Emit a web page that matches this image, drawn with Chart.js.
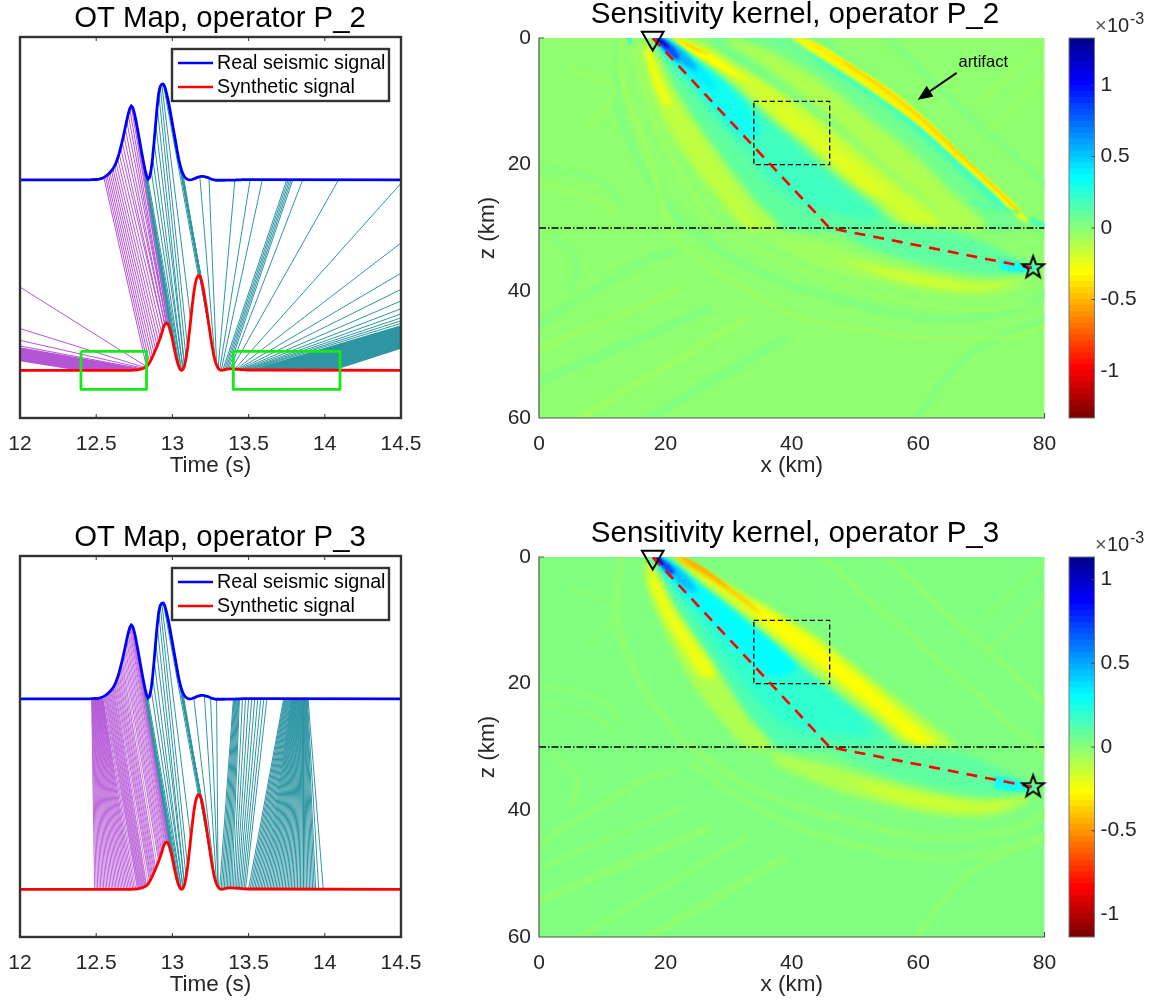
<!DOCTYPE html>
<html>
<head>
<meta charset="utf-8">
<title>OT map and sensitivity kernels</title>
<script src="https://cdn.jsdelivr.net/npm/chart.js@4/dist/chart.umd.min.js"></script>
<style>
  html, body { margin: 0; padding: 0; background: #fff; overflow: hidden; }
  #page { position: relative; width: 1161px; height: 1003px; overflow: hidden; }
  canvas { position: absolute; }
</style>
</head>
<body>
<div id="page"></div>
<script>
// =========================
// SIGNALS (offset from each trace's baseline)
// =========================
const signalTimes = [12,
  12.4, 12.41, 12.42, 12.43, 12.44, 12.45, 12.46, 12.47, 12.48, 12.49,
  12.5, 12.51, 12.52, 12.53, 12.54, 12.55, 12.56, 12.57, 12.58, 12.59,
  12.6, 12.61, 12.62, 12.63, 12.64, 12.65, 12.66, 12.67, 12.68, 12.69,
  12.7, 12.71, 12.72, 12.73, 12.74, 12.75, 12.76, 12.77, 12.78, 12.79,
  12.8, 12.81, 12.82, 12.83, 12.84, 12.85, 12.86, 12.87, 12.88, 12.89,
  12.9, 12.91, 12.92, 12.93, 12.94, 12.95, 12.96, 12.97, 12.98, 12.99,
  13, 13.01, 13.02, 13.03, 13.04, 13.05, 13.06, 13.07, 13.08, 13.09,
  13.1, 13.11, 13.12, 13.13, 13.14, 13.15, 13.16, 13.17, 13.18, 13.19,
  13.2, 13.21, 13.22, 13.23, 13.24, 13.25, 13.26, 13.27, 13.28, 13.29,
  13.3, 13.31, 13.32, 13.33, 13.34, 13.35, 13.36, 13.37, 13.38, 13.39,
  13.4, 13.41, 13.42, 13.43, 13.44, 13.45, 13.46, 13.47, 13.48, 13.49,
  13.5, 14.5];
const realSignal = [0,
  0, 0, 0, 0, 0, 0, 0, .001, .001, .002,
  .002, .003, .004, .006, .009, .013, .018, .024, .031, .039,
  .048, .058, .072, .09, .112, .138, .168, .2, .235, .272,
  .31, .345, .375, .388, .38, .352, .315, .272, .228, .182,
  .137, .095, .056, .022, .004, .012, .05, .115, .2, .295,
  .385, .455, .49, .502, .503, .49, .46, .425, .385, .34,
  .295, .25, .205, .16, .115, .08, .05, .03, .016, .007,
  .002, 0, 0, .002, .005, .008, .012, .015, .017, .018,
  .018, .017, .015, .013, .01, .006, .003, .001, -.001, -.002,
  -.002, -.002, -.002, -.002, -.002, -.001, -.001, -.001, -.001, -.001,
  -.001, -.001, 0, 0, 0, 0, .001, .001, .001, .001,
  .001, 0];
const synthSignal = [0,
  0, 0, 0, 0, 0, 0, 0, 0, 0, 0,
  0, 0, 0, 0, 0, 0, 0, 0, 0, 0,
  0, 0, 0, 0, 0, 0, 0, 0, 0, 0,
  0, 0, 0, 0, .001, .001, .002, .003, .004, .006,
  .008, .011, .015, .02, .028, .04, .055, .072, .09, .108,
  .127, .147, .17, .195, .222, .242, .248, .244, .225, .197,
  .162, .122, .083, .05, .024, .006, 0, .005, .025, .065,
  .12, .19, .265, .34, .405, .455, .485, .497, .495, .475,
  .44, .395, .345, .29, .235, .18, .13, .085, .05, .027,
  .012, .003, 0, .001, .003, .005, .007, .008, .008, .008,
  .007, .007, .006, .006, .005, .004, .004, .003, .003, .002,
  .002, 0];
const realBaseline = 1;
const synthBaseline = 0;
const legendLabels = ['Real seismic signal', 'Synthetic signal'];
const timeTicks = [12, 12.5, 13, 13.5, 14, 14.5];

// =========================
// OT MAP PAIRS (real time -> synthetic time)
// =========================
const tealPeakReal = [12.76, 12.77, 12.78, 12.79, 12.8, 12.81, 12.82, 12.83, 12.84, 12.86, 12.87, 12.88, 12.89,
  12.9, 12.91, 12.92, 12.93, 12.94, 12.95, 12.96, 12.97, 12.98, 12.99, 13, 13.01, 13.02, 13.03, 13.04, 13.05, 13.06, 13.07];
const tealPeakSynth = [12.99, 13, 13.01, 13.01, 13.02, 13.03, 13.04, 13.05, 13.06, 13.06, 13.07, 13.07, 13.08,
  13.08, 13.09, 13.1, 13.12, 13.17, 13.18, 13.19, 13.2, 13.21, 13.21, 13.22, 13.23, 13.24, 13.25, 13.26, 13.26, 13.27, 13.27];

const p2PurpleReal = [10.88, 8.87, 7.35, 6.2,
  12.55, 12.56, 12.57, 12.58, 12.59, 12.6, 12.61, 12.62, 12.63, 12.64, 12.65, 12.66, 12.67, 12.68, 12.69, 12.7, 12.71, 12.72, 12.73, 12.74, 12.75];
const p2PurpleSynth = [12.83, 12.82, 12.81, 12.8,
  12.83, 12.84, 12.85, 12.86, 12.87, 12.88, 12.89, 12.9, 12.91, 12.92, 12.93, 12.94, 12.94, 12.95, 12.95, 12.96, 12.96, 12.96, 12.97, 12.97, 12.98];
const p2PurpleWedgeReal = [5.7, 5.65, 5.6, 5.55, 5.5, 5.45, 5.4, 5.35, 5.3, 5.25, 5.2, 5.15, 5.1, 5.05, 5, 4.95, 4.9, 4.85, 4.8, 4.75, 4.7, 4.65, 4.6];
const p2PurpleWedgeSynth = [12.79, 12.78, 12.76, 12.74, 12.72, 12.7, 12.68, 12.66, 12.64, 12.62, 12.6, 12.58, 12.56, 12.54, 12.52, 12.5, 12.48, 12.46, 12.44, 12.43, 12.42, 12.41, 12.4];
const p2TealReal = [13.18, 13.24, 13.41, 13.51, 13.59, 13.75, 13.76, 13.77, 13.78, 13.79, 13.855, 14.09, 14.52, 15.04, 15.54, 15.95, 16.35, 16.7, 16.97, 17.21, 17.39, 17.58];
const p2TealSynth = [13.28, 13.29, 13.3, 13.31, 13.32, 13.33, 13.34, 13.35, 13.36, 13.37, 13.38, 13.39, 13.41, 13.42, 13.43, 13.44, 13.45, 13.46, 13.47, 13.48, 13.49, 13.5];
const p2TealWedgeReal = [17.73, 17.69, 17.66, 17.64, 17.62, 17.61, 17.6, 17.59, 17.58, 17.58, 17.58, 17.59, 17.6, 17.61, 17.62, 17.64, 17.66, 17.68, 17.7, 17.72, 17.75, 17.78, 17.81, 17.84, 17.87, 17.9, 17.93];
const p2TealWedgeSynth = [13.52, 13.54, 13.56, 13.58, 13.6, 13.62, 13.64, 13.66, 13.68, 13.7, 13.72, 13.74, 13.76, 13.78, 13.8, 13.82, 13.84, 13.86, 13.88, 13.9, 13.92, 13.94, 13.96, 13.98, 14, 14.02, 14.04];

const p3PurpleReal = [12.47, 12.473, 12.476, 12.479, 12.482, 12.485, 12.488, 12.491, 12.494, 12.497, 12.5, 12.503, 12.506, 12.509, 12.512, 12.515, 12.518, 12.521, 12.524, 12.527, 12.53, 12.533, 12.536, 12.539, 12.542, 12.545,
  12.55, 12.56, 12.57, 12.58, 12.59, 12.6, 12.61, 12.62, 12.63, 12.64, 12.65, 12.66, 12.67, 12.68, 12.69, 12.7, 12.71, 12.72, 12.73, 12.74, 12.75];
const p3PurpleSynth = [12.49, 12.5, 12.51, 12.52, 12.53, 12.54, 12.55, 12.56, 12.57, 12.58, 12.59, 12.6, 12.61, 12.62, 12.63, 12.64, 12.65, 12.66, 12.67, 12.68, 12.69, 12.7, 12.71, 12.72, 12.73, 12.74,
  12.75, 12.77, 12.78, 12.79, 12.8, 12.81, 12.82, 12.83, 12.85, 12.86, 12.87, 12.88, 12.89, 12.91, 12.92, 12.93, 12.94, 12.95, 12.96, 12.97, 12.98];
// lines that start between the signal samples
const p3PurpleMidReal = [12.555, 12.565, 12.575, 12.585, 12.595, 12.605, 12.615, 12.625, 12.635, 12.645, 12.655, 12.665, 12.675, 12.685, 12.695, 12.705, 12.715, 12.725, 12.735, 12.745];
const p3PurpleMidRealY = [.0155, .021, .0275, .035, .0435, .053, .065, .081, .101, .125, .153, .184, .2175, .2535, .291, .3275, .36, .382, .384, .366];
const p3PurpleMidSynth = [12.76, 12.775, 12.785, 12.795, 12.805, 12.815, 12.825, 12.84, 12.855, 12.865, 12.875, 12.885, 12.9, 12.915, 12.925, 12.935, 12.945, 12.955, 12.965, 12.975];
const p3PurpleMidSynthY = [.002, .0035, .005, .007, .0095, .013, .0175, .028, .0475, .0635, .081, .099, .127, .158, .1825, .2085, .232, .245, .246, .235];
const p3TealReal = [13.14, 13.21, 13.25, 13.29, 13.4, 13.405, 13.41, 13.415, 13.42, 13.425, 13.43, 13.435,
  13.44, 13.46, 13.48, 13.5, 13.52, 13.54, 13.56, 13.58, 13.6, 13.62,
  13.73, 13.735, 13.74, 13.745, 13.75, 13.755, 13.76, 13.765, 13.77, 13.775, 13.78, 13.783, 13.786, 13.789, 13.792, 13.795, 13.798, 13.801, 13.804, 13.807,
  13.81, 13.813, 13.816, 13.819, 13.822, 13.825, 13.828, 13.831, 13.834, 13.837, 13.84, 13.843, 13.846, 13.849, 13.852, 13.855, 13.858, 13.861, 13.864, 13.867, 13.87, 13.873, 13.876, 13.879, 13.882, 13.885, 13.89];
const p3TealSynth = [13.28, 13.29, 13.3, 13.3, 13.31, 13.32, 13.33, 13.34, 13.35, 13.36, 13.37, 13.38,
  13.39, 13.4, 13.41, 13.42, 13.43, 13.44, 13.45, 13.46, 13.47, 13.48,
  13.5, 13.51, 13.52, 13.53, 13.54, 13.55, 13.56, 13.57, 13.58, 13.59, 13.6, 13.61, 13.62, 13.63, 13.64, 13.65, 13.66, 13.67, 13.68, 13.69,
  13.7, 13.71, 13.72, 13.73, 13.74, 13.75, 13.76, 13.77, 13.78, 13.79, 13.8, 13.81, 13.82, 13.83, 13.84, 13.85, 13.86, 13.87, 13.88, 13.89, 13.9, 13.91, 13.92, 13.93, 13.94, 13.96, 13.99];

// green windows, P_2 only
const windowLeftT = [12.4, 12.83, 12.83, 12.4, 12.4];
const windowRightT = [13.4, 14.1, 14.1, 13.4, 13.4];
const windowY = [0.1, 0.1, -0.1, -0.1, 0.1];

// =========================
// KERNEL SHAPES ([x km, z km]), values in units of 1e-3
// =========================
const kernelXTicks = [0, 20, 40, 60, 80];
const kernelZTicks = [0, 20, 40, 60];
const raypathX = [18, 46, 78];
const raypathZ = [0, 30, 36.3];
const boxX = [34, 46, 46, 34, 34];
const boxZ = [10, 10, 20, 20, 10];
const interfaceX = [0, 80];
const interfaceZ = [30, 30];
const receiverPoint = [18, 0];
const sourcePoint = [78.2, 36.2];
const plotEdge = [[-3, -3], [83, -3], [83, 63], [-3, 63]];

const p2Range = 1.33;
const p3Range = 1.135;
const p2CbarTicks = [-1, -0.5, 0, 0.5, 1];
const p3CbarTicks = [-1, -0.5, 0, 0.5, 1];

const jetColors = ['#000090', '#0000A0', '#0000B0', '#0000C0', '#0000D0', '#0000E0', '#0000F0', '#0000FF',
  '#0010FF', '#0020FF', '#0030FF', '#0040FF', '#0050FF', '#0060FF', '#0070FF', '#0080FF',
  '#0090FF', '#00A0FF', '#00B0FF', '#00C0FF', '#00D0FF', '#00E0FF', '#00F0FF', '#00FFFF',
  '#10FFF0', '#20FFE0', '#30FFD0', '#40FFC0', '#50FFB0', '#60FFA0', '#70FF90', '#80FF80',
  '#90FF70', '#A0FF60', '#B0FF50', '#C0FF40', '#D0FF30', '#E0FF20', '#F0FF10', '#FFFF00',
  '#FFF000', '#FFE000', '#FFD000', '#FFC000', '#FFB000', '#FFA000', '#FF9000', '#FF8000',
  '#FF7000', '#FF6000', '#FF5000', '#FF4000', '#FF3000', '#FF2000', '#FF1000', '#FF0000',
  '#F00000', '#E00000', '#D00000', '#C00000', '#B00000', '#A00000', '#900000', '#800000'];

// faint streaks in the flat part of both kernels
const arcOuter = [[13.1, -1], [12.5, 10], [16.4, 20.5], [24, 30], [35.7, 37.4], [48.7, 41.6], [61.6, 44.2], [74.5, 43.2], [81, 40]];
const arcInner = [[24, 32.5], [35, 40], [50, 45.5], [65, 47.5], [81, 44]];
const streakLeftA = [[-1, 20], [10, 22.6], [13, 25.8]];
const streakLeftB = [[-1, 22.6], [8.6, 25.3], [12.5, 27.9]];
const streakLeftC = [[2, 31], [6, 35], [5, 40]];
const streakLowA = [[-1, 45.8], [16.4, 35.3], [21.5, 33.7]];
const streakLowB = [[-1, 49.5], [22.8, 39.5]];
const streakLowC = [[-1, 54.7], [27.3, 42.6]];
const streakLowD = [[4.7, 61], [33, 44.2]];
const streakLowE = [[15.7, 61], [39, 47.4]];
const streakUpA = [[69.4, 10.5], [81, 0]];
const streakUpB = [[70.7, 15.3], [81, 5]];
const streakUpC = [[53.8, -1], [81, 24]];
const streakUpD = [[43.5, -1], [81, 32]];
const streakLowF = [[59, 61], [68, 50], [81, 44]];
const streakTopLeft = [[5, 5], [12, 8], [8, 14]];

// P_2 kernel
const k2Aqua1 = [[26, -1], [40, -1], [46, 2], [52, 6], [58, 10.5], [64, 16], [70, 22], [75, 27.5], [77, 30], [62, 30], [55, 24.5], [47, 17], [38, 10], [30, 4.5]];
const k2Fan = [[18, -1], [21, 0], [26, 2.5], [31, 5.5], [36, 9.5], [42, 14], [48, 19], [54, 24], [60, 28.5], [62, 30], [36, 30], [32, 26], [27, 20], [23, 14], [20, 8], [18.5, 2]];
const k2Cyan2 = [[18, -1], [21, .8], [26, 3.5], [31, 7.5], [37, 13], [42, 18], [48, 23], [54, 28.5], [48, 28], [41, 26], [36, 22], [32, 17], [27, 11.5], [23, 6], [19.5, 2]];
const k2Cyan3 = [[18, -1], [21, .8], [26, 3.8], [30, 7.5], [34, 12], [35, 15], [32, 15.5], [28, 11.5], [24, 7], [20, 2.5]];
const k2Cyan4 = [[19, 0], [23, 2.5], [27, 6], [28, 8.5], [25, 6.5], [21, 3]];
const k2Blue1 = [[18, -.5], [21, .8], [23.5, 2.8], [25, 5], [22.5, 4], [20, 2]];
const k2Blue2 = [[18, -.5], [20.3, .5], [22, 2.5], [22, 3.5], [20.2, 2.2], [19, 1]];
const k2Blue3 = [[18.2, 0], [19.6, .4], [20.6, 1.6], [19.6, 1.2]];
const k2Second = [[31, 0], [36, 1.8], [44, 6.3], [52, 12.5], [59, 18], [65, 24], [71, 30], [66, 30], [60, 25], [54, 20], [47, 13.5], [40, 8], [34, 3.5], [29, .5]];
const k2ArtAqua = [[43, 1], [50, 5.5], [57, 10], [63, 15.5], [69, 21.5], [74, 26.5], [73, 27], [67, 21.5], [61, 16], [55, 11], [49, 7], [43, 3]];
const k2ArtYellow = [[39, -1], [44, 1], [50, 4.5], [56, 8.5], [62, 13.5], [68, 19.5], [74, 25], [77.5, 29], [76, 28.5], [71.5, 24], [66, 19], [60.5, 14], [54.5, 9.7], [49, 6], [43.5, 2.5], [40, 0]];
const k2ArtCore = [[41, -.5], [45, 1.4], [50, 4.6], [56, 8.6], [62, 13.6], [68, 19.6], [74, 25], [76.5, 27.7], [73, 25], [67, 19.8], [61, 14.4], [55, 9.6], [49.5, 5.6], [44.5, 2.4]];
const k2ArtOrange = [[48, 3.7], [54, 7.6], [60, 12.3], [66, 17.8], [72, 23.5], [76, 27.5]];
const k2FirstOuter = [[20, -1], [26, 1], [31, 4], [37, 7.5], [43, 11.5], [49, 16], [55, 21], [61, 25.5], [67, 30], [58, 30], [53, 26], [47, 21.5], [42, 17], [37, 13], [31, 7.5], [25, 3]];
const k2FirstMid = [[21, -.5], [27, 2], [33, 5.5], [39, 9.5], [45, 14], [51, 19], [57, 24], [64, 30], [60, 30], [54, 25.5], [48, 21], [43, 16.5], [38, 13], [32, 7.5], [26, 3.2]];
const k2FirstCore = [[38, 10.5], [44, 15], [50, 20], [55, 24.5], [52, 24], [47, 20], [42, 15.5], [38, 12.5]];
const k2FirstTop = [[21, -.3], [26, 1.9], [30, 4.5], [33, 6.8], [29, 5], [25, 2.8], [22, .8]];
const k2FirstTop2 = [[21.5, 0], [24.5, 1.3], [27, 2.7], [24.5, 1.9]];
const k2LeftOuter = [[16.5, 0], [18.5, 2], [21, 7], [24, 12], [29, 19], [34, 25.5], [38, 30], [33, 30], [28, 25], [24, 20], [20, 14], [17.5, 8], [16, 2]];
const k2LeftMid = [[17, 1], [18.5, 4], [21, 9], [25, 15], [29, 21], [33, 27], [35, 30], [33, 30], [29, 25], [25, 20], [21, 14], [18, 7.5]];
const k2LeftTop = [[17, 1], [18, 3], [19.5, 7], [21, 10.5], [19.8, 10.5], [18, 6.5], [16.8, 2.5]];
const k2LeftBandA = [[13.2, -1], [12.9, 4.5], [14, 9.7], [16.2, 15], [20.5, 29.7]];
const k2LeftBandB = [[15, 1], [16.2, 7], [19, 15], [24, 24], [28, 30]];
const k2CyanTick = [[14, -1], [14.5, 1]];
const k2LowerOuter = [[36, 30.3], [44, 32.3], [52, 34.5], [60, 36.3], [68, 37.8], [74, 38], [78, 37], [76, 39.5], [70, 40.8], [62, 40.3], [54, 38.8], [45, 36.3], [38, 33]];
const k2LowerCore = [[47, 34.8], [56, 36.5], [63, 37.8], [70, 38.8], [75, 38.4], [71, 39.8], [63, 39.5], [55, 37.8]];
const k2LowerAqua = [[46, 30], [63, 30], [70, 32], [76, 35], [79, 36.3], [76, 37.2], [69, 37.3], [60, 35.5], [52, 33.2]];
const k2LowerNear = [[73, 35], [76, 35.5], [79, 36.3], [76, 37], [73, 36.5]];
const k2ArcA = [[20.5, 30.5], [26, 35.5], [33, 40], [41, 44], [51, 46], [62, 47.5], [75, 47], [81, 45]];
const k2ArcB = [[30, 31], [40, 36], [50, 39.5], [60, 42], [70, 43], [78, 42]];
const k2EdgeA = [[68.5, 26], [76, 27.6]];
const k2EdgeB = [[77.7, 28.7], [81, 30]];
const arrowShaft = [[66.1, 5.5], [61, 9]];
const arrowHead = [[60, 9.67], [62.3, 9.2], [61.3, 7.6]];
const artifactAt = [70.3, 3.8];

// P_3 kernel
const k3Fan = [[18, -1], [21, .5], [26, 3.5], [32, 7.5], [38, 11], [44, 15.5], [50, 20], [55, 24], [60, 28], [62, 30], [37, 30], [33, 27], [29, 21], [25, 15], [21, 8], [18.5, 2]];
const k3Cyan2 = [[18, -1], [21, 1], [26, 4.5], [32, 9], [38, 13.5], [44, 18.5], [49, 23], [53, 28], [46, 28], [40, 27], [35, 23], [30, 17], [26, 11], [21, 4], [18.5, 1]];
const k3Cyan3 = [[18, -.5], [21, 1], [26, 4.5], [31, 8.5], [37, 13], [41, 17], [37, 19], [32, 15], [27, 10], [23, 6], [20, 2.5]];
const k3Blue1 = [[18, -.5], [21, 1], [23.5, 3.2], [25, 5.5], [22.5, 4.5], [20.5, 2.5]];
const k3Blue2 = [[18, -.5], [20.2, .8], [21.5, 2.3], [20.8, 2.8], [19.3, 1.5]];
const k3Blue3 = [[18, 0], [19.3, .4], [19.8, 1.3], [19, 1]];
const k3RightOuter = [[20, -1], [25, 1.5], [31, 5.2], [37, 8.5], [43, 12], [49, 16.5], [55, 21], [61, 25.5], [66, 30], [58, 30], [54, 26.5], [48, 22], [42, 17.5], [37, 13], [31, 8], [26, 4]];
const k3RightMid = [[21, -.5], [27, 3], [33, 6.3], [40, 10.5], [46, 14.5], [52, 19.5], [58, 24.5], [64, 30], [60, 30], [55, 26], [49, 21], [43, 16.5], [38, 13], [31, 7.5], [26, 4]];
const k3RightCore = [[33, 6.8], [40, 11], [46, 15.5], [51, 19.5], [57, 25], [62.5, 30], [60.5, 30], [55, 25], [49, 20.5], [44, 16.5], [39, 13], [35, 9.5]];
const k3Orange = [[21, -.5], [24, .8], [28, 3.2], [33, 6.8], [35, 9], [30, 5.5], [26, 3], [22.5, 1]];
const k3OrangeCore = [[22, -.3], [25, 1], [28.5, 3.5], [30, 5], [27, 3], [24, 1.3]];
const k3LeftOuter = [[17, 0], [18.5, 2], [21, 7], [25, 13], [29, 19], [33, 25], [37, 30], [33, 30], [29, 26], [25, 21], [21, 14], [18, 7], [16.5, 2]];
const k3LeftCore = [[17.3, .5], [18.7, 3], [21, 8], [24, 12.5], [28, 18.5], [26, 19], [22.5, 14], [19.5, 9], [17.5, 4.5]];
const k3LowerOuter = [[36, 30.5], [44, 32.5], [52, 34.5], [60, 36.5], [68, 38], [74, 38], [78, 37], [76, 39.5], [70, 41], [62, 40.5], [54, 38.8], [46, 36.5], [38, 33]];
const k3LowerCore = [[48, 35], [56, 36.5], [63, 38], [70, 39], [75, 38.6], [71, 40], [63, 39.7], [55, 38]];
const k3LowerAqua = [[47, 30], [63, 30], [70, 32], [76, 35], [78.5, 36.3], [76, 37.3], [69, 37.5], [60, 35.8], [52, 33.5], [46, 31]];
const k3LowerNear = [[72, 34.5], [76, 35.4], [78.5, 36.3], [76, 37], [72, 36.5]];

// paint order, back to front: [shape, value, stroke px (0 = filled), blur px]
const k2Layers = [
  [plotEdge, 0, 0, 0],
  [arcOuter, 0.03, 7, 2], [streakLeftA, 0.03, 4, 2], [streakLeftB, -0.05, 3, 2], [streakLeftC, 0.03, 5, 2],
  [streakLowA, 0.03, 6, 2], [streakLowB, -0.05, 4, 2], [streakLowC, 0.03, 8, 2], [streakLowD, -0.05, 5, 2], [streakLowE, 0.03, 8, 2],
  [streakUpA, -0.05, 3, 2], [streakUpB, -0.05, 3, 2], [streakUpC, 0.03, 6, 2], [streakUpD, 0.03, 6, 2], [streakLowF, 0.03, 6, 2], [streakTopLeft, -0.05, 3, 2],
  [k2ArcA, -0.06, 3, 1.5], [k2ArcB, -0.06, 2.5, 1.5], [k2LeftBandA, -0.06, 5, 1.5], [k2LeftBandB, -0.06, 4, 1.5],
  [k2Aqua1, 0.06, 0, 4], [k2Fan, 0.1, 0, 3], [k2Second, -0.1, 0, 4],
  [k2LeftOuter, -0.09, 0, 3], [k2LeftMid, -0.15, 0, 3], [k2LeftTop, -0.27, 0, 2],
  [k2Cyan2, 0.2, 0, 4], [k2Cyan3, 0.33, 0, 3], [k2Cyan4, 0.38, 0, 2],
  [k2FirstOuter, -0.12, 0, 3], [k2FirstMid, -0.19, 0, 3], [k2FirstCore, -0.24, 0, 3], [k2FirstTop, -0.33, 0, 1.5], [k2FirstTop2, -0.42, 0, 1],
  [k2Blue1, 0.55, 0, 2], [k2Blue2, 0.8, 0, 1.5], [k2Blue3, 1.1, 0, 1],
  [k2ArtAqua, 0.18, 0, 2], [k2ArtYellow, -0.28, 0, 1.5], [k2ArtCore, -0.36, 0, 1], [k2ArtOrange, -0.48, 1.5, 1],
  [k2LowerOuter, -0.08, 0, 3], [k2LowerCore, -0.18, 0, 3], [k2LowerAqua, 0.12, 0, 3], [k2LowerNear, 0.3, 0, 1.5],
  [k2CyanTick, 0.25, 3, 1], [k2EdgeA, 0.15, 3, 1.5], [k2EdgeB, 0.2, 5, 1.5]
];
const k3Layers = [
  [plotEdge, 0.02, 0, 0],
  [arcOuter, 0, 7, 2], [arcInner, 0, 6, 2], [streakLeftA, 0, 4, 2], [streakLeftB, 0, 3, 2], [streakLeftC, 0, 5, 2],
  [streakLowA, 0, 6, 2], [streakLowB, 0, 4, 2], [streakLowC, 0, 8, 2], [streakLowD, 0, 5, 2], [streakLowE, 0, 8, 2],
  [streakUpA, 0, 3, 2], [streakUpB, 0, 3, 2], [streakUpC, 0, 6, 2], [streakUpD, 0, 6, 2], [streakLowF, 0, 6, 2], [streakTopLeft, 0, 3, 2],
  [k3Fan, 0.12, 0, 4], [k3LeftOuter, -0.09, 0, 3], [k3LeftCore, -0.22, 0, 3],
  [k3Cyan2, 0.2, 0, 4], [k3Cyan3, 0.3, 0, 3],
  [k3RightOuter, -0.1, 0, 3], [k3RightMid, -0.2, 0, 3], [k3RightCore, -0.26, 0, 3], [k3Orange, -0.36, 0, 1.5], [k3OrangeCore, -0.46, 0, 1],
  [k3Blue1, 0.45, 0, 2], [k3Blue2, 0.7, 0, 1.5], [k3Blue3, 0.95, 0, 1],
  [k3LowerOuter, -0.08, 0, 3], [k3LowerCore, -0.15, 0, 3], [k3LowerAqua, 0.1, 0, 3], [k3LowerNear, 0.25, 0, 1.5]
];

// =========================
// SHARED STYLE
// =========================
Chart.defaults.font.family = '"Liberation Sans", Arial, sans-serif';
Chart.defaults.animation = false;
const inkColor = '#262626';
const frameColor = '#333333';
const tickFont = { size: 21, lineHeight: 1.2 };
const labelFont = { size: 22.5, lineHeight: 1.2 };
const noGrid = { display: false, drawTicks: false };
// ticks.padding also widens the side overflow of the end labels, so the gap comes from tickLength
const noGridX = { display: false, drawTicks: true, tickLength: 7 };
const noInteraction = { events: [], responsive: false, animation: false };

function addCanvas(left, top, width, height) {
    const c = document.createElement('canvas');
    c.width = width;
    c.height = height;
    c.style.left = left + 'px';
    c.style.top = top + 'px';
    document.getElementById('page').appendChild(c);
    return c;
}

// empty axis, it only reserves room so the title can sit off the plot centre
function spacerAxis(position, width) {
    return {
        type: 'linear', position, display: true,
        ticks: { display: false }, grid: noGrid, border: { display: false },
        afterFit(s) { s.width = width; }
    };
}

// =========================
// OT MAP PANELS
// =========================
function signalAt(values, t) {
    const i = signalTimes.indexOf(t);
    return i < 0 ? 0 : values[i];
}

function mapDataset(realT, synthT, color, width) {
    const pts = [];
    realT.forEach((r, i) => {
        const s = synthT[i];
        pts.push({ x: r, y: realBaseline + signalAt(realSignal, r) });
        pts.push({ x: s, y: synthBaseline + signalAt(synthSignal, s) });
        pts.push({ x: NaN, y: NaN });
    });
    return { data: pts, showLine: true, borderColor: color, borderWidth: width, pointRadius: 0, spanGaps: false };
}

function midMapDataset(realT, realY, synthT, synthY, color, width) {
    const pts = [];
    realT.forEach((r, i) => {
        pts.push({ x: r, y: realBaseline + realY[i] });
        pts.push({ x: synthT[i], y: synthBaseline + synthY[i] });
        pts.push({ x: NaN, y: NaN });
    });
    return { data: pts, showLine: true, borderColor: color, borderWidth: width, pointRadius: 0, spanGaps: false };
}

function signalDataset(values, base, color) {
    return {
        data: signalTimes.map((t, i) => ({ x: t, y: base + values[i] })),
        showLine: true, borderColor: color, borderWidth: 2.8, pointRadius: 0
    };
}

function windowDataset(times) {
    return {
        data: times.map((t, i) => ({ x: t, y: windowY[i] })),
        showLine: true, borderColor: '#14EB14', borderWidth: 2.8, pointRadius: 0, borderJoinStyle: 'round'
    };
}

const otFrame = {
    id: 'otFrame',
    afterDraw(chart) {
        const { ctx, chartArea: a, scales: { x } } = chart;
        ctx.save();
        ctx.strokeStyle = frameColor;
        ctx.lineWidth = 2.4;
        ctx.strokeRect(a.left, a.top, a.right - a.left, a.bottom - a.top);
        ctx.beginPath();
        timeTicks.forEach(t => {
            const px = x.getPixelForValue(t);
            ctx.moveTo(px, a.top); ctx.lineTo(px, a.top + 4);
            ctx.moveTo(px, a.bottom); ctx.lineTo(px, a.bottom - 4);
        });
        ctx.lineWidth = 1;
        ctx.stroke();
        // legend box
        ctx.fillStyle = '#fff';
        ctx.lineWidth = 2.4;
        ctx.fillRect(172, 49, 217, 52);
        ctx.strokeRect(172, 49, 217, 52);
        [['#0000FF', 63], ['#FF0000', 87]].forEach(([color, y], i) => {
            ctx.strokeStyle = color;
            ctx.lineWidth = 2.4;
            ctx.beginPath(); ctx.moveTo(178, y); ctx.lineTo(213, y); ctx.stroke();
            ctx.fillStyle = '#000';
            ctx.font = '19.7px ' + Chart.defaults.font.family;
            ctx.textBaseline = 'middle';
            ctx.fillText(legendLabels[i], 217, y + 0.5);
        });
        ctx.restore();
    }
};

function otChart(top, title, datasets) {
    return new Chart(addCanvas(0, top, 440, 490), {
        type: 'scatter',
        data: { datasets },
        options: {
            ...noInteraction,
            layout: { padding: { left: 20, right: 20 } },
            plugins: {
                legend: { display: false }, tooltip: { enabled: false },
                title: { display: true, text: title, color: '#000', font: { size: 29.3, weight: 'normal', lineHeight: 1 }, padding: { top: 4, bottom: 3.7 } }
            },
            scales: {
                x: {
                    type: 'linear', min: 12, max: 14.5,
                    afterBuildTicks(axis) { axis.ticks = timeTicks.map(value => ({ value })); },
                    afterFit(s) { s.height = 72; },
                    ticks: { font: tickFont, color: inkColor, padding: 7, maxRotation: 0, autoSkip: false, callback: v => String(v) },
                    grid: noGridX, border: { display: false },
                    title: { display: true, text: 'Time (s)', color: inkColor, font: labelFont, padding: { top: 0, bottom: 11 } }
                },
                y: { type: 'linear', min: -0.25, max: 1.75, display: false },
                gap: spacerAxis('right', 19)
            }
        },
        plugins: [otFrame]
    });
}

otChart(0, 'OT Map, operator P_2', [
    windowDataset(windowLeftT), windowDataset(windowRightT),
    signalDataset(realSignal, realBaseline, '#0000FF'),
    signalDataset(synthSignal, synthBaseline, '#FF0000'),
    mapDataset(tealPeakReal, tealPeakSynth, '#2E95A3', 1),
    mapDataset(p2TealReal, p2TealSynth, '#2E95A3', 1),
    mapDataset(p2TealWedgeReal, p2TealWedgeSynth, '#2E95A3', 1.6),
    mapDataset(p2PurpleReal, p2PurpleSynth, '#B455D6', 1),
    mapDataset(p2PurpleWedgeReal, p2PurpleWedgeSynth, '#B455D6', 1.5)
]);
otChart(519, 'OT Map, operator P_3', [
    signalDataset(realSignal, realBaseline, '#0000FF'),
    signalDataset(synthSignal, synthBaseline, '#FF0000'),
    mapDataset(tealPeakReal, tealPeakSynth, '#2E95A3', 1),
    mapDataset(p3TealReal, p3TealSynth, '#2E95A3', 1),
    mapDataset(p3PurpleReal, p3PurpleSynth, '#B455D6', 0.9),
    midMapDataset(p3PurpleMidReal, p3PurpleMidRealY, p3PurpleMidSynth, p3PurpleMidSynthY, '#B455D6', 0.7)
]);

// =========================
// KERNEL PANELS
// =========================
function jetColor(v, range) {
    const i = Math.floor((range - v) / (2 * range) * jetColors.length);
    return jetColors[Math.max(0, Math.min(jetColors.length - 1, i))];
}

function layerDataset([shape, value, strokePx, blurPx], range) {
    const color = jetColor(value, range);
    const base = { data: shape.map(([x, y]) => ({ x, y })), showLine: true, pointRadius: 0, tension: 0.35, blurPx };
    if (strokePx > 0) {
        return { ...base, borderColor: color, borderWidth: strokePx, fill: false };
    }
    return { ...base, borderColor: 'transparent', borderWidth: 0, backgroundColor: color, fill: 'shape' };
}

function xyDataset(xs, zs, color, width, dash) {
    return {
        data: xs.map((x, i) => ({ x, y: zs[i] })), showLine: true, borderColor: color,
        borderWidth: width, borderDash: dash, pointRadius: 0, tension: 0, blurPx: 0
    };
}

function starCanvas() {
    const c = document.createElement('canvas');
    c.width = 28;
    c.height = 28;
    const g = c.getContext('2d');
    g.beginPath();
    for (let i = 0; i < 10; i++) {
        const r = i % 2 ? 4.7 : 11.5;
        const a = -Math.PI / 2 + i * Math.PI / 5;
        g[i ? 'lineTo' : 'moveTo'](14 + r * Math.cos(a), 14.5 + r * Math.sin(a));
    }
    g.closePath();
    g.lineWidth = 2;
    g.strokeStyle = '#000';
    g.stroke();
    return c;
}

// blur is set per dataset; Filler paints in beforeDatasetDraw so it has to be set ahead of it
const kernelBlur = {
    id: 'kernelBlur',
    beforeDatasetsDraw(chart) {
        const ds = chart.data.datasets;
        setBlur(chart, ds.length - 1);
    },
    afterDatasetDraw(chart, args) {
        setBlur(chart, args.index - 1);
    },
    afterDatasetsDraw(chart) {
        chart.ctx.filter = 'none';
    }
};
function setBlur(chart, i) {
    const d = chart.data.datasets[i];
    chart.ctx.filter = d && d.blurPx ? 'blur(' + d.blurPx + 'px)' : 'none';
}

const kernelAxes = {
    id: 'kernelAxes',
    afterDraw(chart, args, opts) {
        const { ctx, chartArea: a } = chart;
        ctx.save();
        ctx.strokeStyle = '#555';
        ctx.lineWidth = 1.2;
        ctx.beginPath();
        ctx.moveTo(a.left + 5, a.top); ctx.lineTo(a.left, a.top);
        ctx.lineTo(a.left, a.bottom); ctx.lineTo(a.right, a.bottom); ctx.lineTo(a.right, a.bottom - 5);
        ctx.stroke();
        if (opts.note) {
            const { x, y } = chart.scales;
            ctx.fillStyle = '#000';
            ctx.font = '16.5px ' + Chart.defaults.font.family;
            ctx.textAlign = 'center';
            ctx.textBaseline = 'middle';
            ctx.fillText(opts.note, x.getPixelForValue(artifactAt[0]), y.getPixelForValue(artifactAt[1]));
        }
        ctx.restore();
    }
};

function kernelChart(top, title, layers, range, extras, note) {
    const painted = layers.map(l => layerDataset(l, range));
    const marks = [
        xyDataset(interfaceX, interfaceZ, '#000', 1.4, [7, 2, 1.5, 2]),
        xyDataset(boxX, boxZ, '#000', 1.3, [5, 3]),
        xyDataset(raypathX, raypathZ, '#FF0000', 2.6, [11, 8]),
        ...extras,
        {
            data: [{ x: receiverPoint[0], y: receiverPoint[1] }], pointStyle: 'triangle', rotation: 180, pointRadius: 12.5,
            pointBackgroundColor: 'transparent', pointBorderColor: '#000', pointBorderWidth: 2, clip: false, blurPx: 0
        },
        {
            data: [{ x: sourcePoint[0], y: sourcePoint[1] }], pointStyle: starCanvas(), pointRadius: 12, clip: false, blurPx: 0
        }
    ];
    // Chart.js paints the last dataset first
    const datasets = [...painted, ...marks].reverse();
    return new Chart(addCanvas(470, top, 650, 490), {
        type: 'scatter',
        data: { datasets },
        options: {
            ...noInteraction,
            plugins: {
                legend: { display: false }, tooltip: { enabled: false },
                kernelAxes: { note },
                title: { display: true, text: title, color: '#000', font: { size: 29.5, weight: 'normal', lineHeight: 1 }, padding: { top: 0, bottom: 8.5 } }
            },
            scales: {
                x: {
                    type: 'linear', min: 0, max: 80,
                    afterBuildTicks(axis) { axis.ticks = kernelXTicks.map(value => ({ value })); },
                    afterFit(s) { s.height = 72; },
                    ticks: { font: tickFont, color: inkColor, padding: 7, maxRotation: 0, autoSkip: false },
                    grid: noGridX, border: { display: false },
                    title: { display: true, text: 'x (km)', color: inkColor, font: labelFont, padding: { top: 0, bottom: 11 } }
                },
                y: {
                    type: 'linear', min: 0, max: 60, reverse: true,
                    afterBuildTicks(axis) { axis.ticks = kernelZTicks.map(value => ({ value })); },
                    afterFit(s) { s.width = 69; },
                    ticks: { font: tickFont, color: inkColor, padding: 8, autoSkip: false },
                    grid: noGrid, border: { display: false },
                    title: { display: true, text: 'z (km)', color: inkColor, font: labelFont, padding: { top: 4, bottom: 0 } }
                },
                gap: spacerAxis('right', 75.5)
            }
        },
        plugins: [kernelBlur, kernelAxes]
    });
}

kernelChart(0, 'Sensitivity kernel, operator P_2', k2Layers, p2Range, [
    { data: arrowHead.map(([x, y]) => ({ x, y })), showLine: true, pointRadius: 0, borderColor: '#000', borderWidth: 1, backgroundColor: '#000', fill: 'shape', blurPx: 0 },
    xyDataset(arrowShaft.map(p => p[0]), arrowShaft.map(p => p[1]), '#000', 2)
], 'artifact');
kernelChart(519, 'Sensitivity kernel, operator P_3', k3Layers, p3Range, [], null);

// =========================
// COLORBARS
// =========================
const cbarLabel = {
    id: 'cbarLabel',
    afterDraw(chart, args, opts) {
        const { ctx, chartArea: a, scales: { y } } = chart;
        ctx.save();
        ctx.strokeStyle = '#777';
        ctx.lineWidth = 1;
        ctx.strokeRect(a.left, a.top, a.right - a.left, a.bottom - a.top);
        ctx.strokeStyle = '#444';
        ctx.beginPath();
        opts.ticks.forEach(v => {
            const py = y.getPixelForValue(v);
            ctx.moveTo(a.right, py); ctx.lineTo(a.right - 3, py);
        });
        ctx.stroke();
        ctx.textBaseline = 'alphabetic';
        ctx.fillStyle = '#555';
        ctx.font = '20px ' + Chart.defaults.font.family;
        ctx.fillText('\u00D7', a.left + 26, 32);
        ctx.fillStyle = inkColor;
        ctx.fillText('10', a.left + 38, 32);
        ctx.font = '16px ' + Chart.defaults.font.family;
        ctx.fillText('-3', a.left + 61, 24);
        ctx.restore();
    }
};

function colorbar(top, range, tickValues) {
    // each bar runs from the bottom to its upper edge; the lowest is painted last
    const n = jetColors.length;
    const datasets = jetColors.map((color, i) => ({
        data: [[-range, range - 2 * range * i / n]],
        backgroundColor: color, borderWidth: 0, barPercentage: 1, categoryPercentage: 1, grouped: false
    })).reverse();
    return new Chart(addCanvas(1060, top, 101, 490), {
        type: 'bar',
        data: { labels: ['kernel'], datasets },
        options: {
            ...noInteraction,
            layout: { padding: { left: 9, top: 38, bottom: 72 } },
            plugins: { legend: { display: false }, tooltip: { enabled: false }, cbarLabel: { ticks: tickValues } },
            scales: {
                x: { display: false, stacked: false },
                y: {
                    position: 'right', min: -range, max: range,
                    afterBuildTicks(axis) { axis.ticks = tickValues.map(value => ({ value })); },
                    afterFit(s) { s.width = 66.5; },
                    ticks: { font: tickFont, color: inkColor, padding: 6, autoSkip: false, callback: v => String(v) },
                    grid: noGrid, border: { display: false }
                }
            }
        },
        plugins: [cbarLabel]
    });
}

colorbar(0, p2Range, p2CbarTicks);
colorbar(519, p3Range, p3CbarTicks);
</script>
</body>
</html>
